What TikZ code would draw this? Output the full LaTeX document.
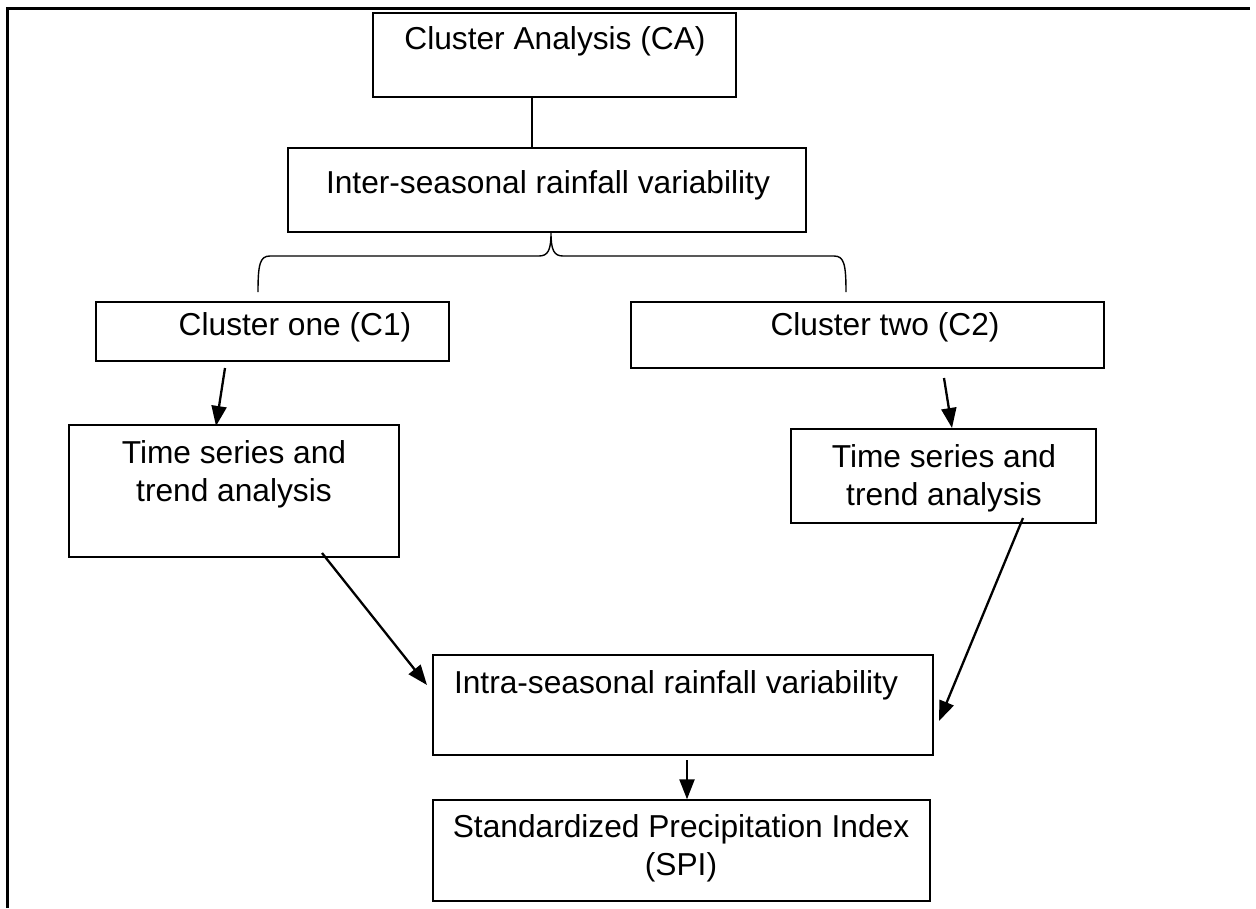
\documentclass[tikz,border=0pt]{standalone}
\usepackage{fontspec}
\setmainfont{Liberation Sans}
\usetikzlibrary{arrows.meta,calc}
\begin{document}
\begin{tikzpicture}[x=1pt,y=-1pt,
  box/.style={draw, line width=1.4pt, inner sep=0pt, rectangle},
  txt/.style={inner sep=0pt, align=center, font=\fontsize{31.7}{38}\selectfont},
  arr/.style={line width=2.3pt, -{Triangle[length=20pt,width=15pt]}},
  frame/.style={line width=3pt}]
\useasboundingbox (0,0) rectangle (1256,908);
% outer frame
\coordinate (fb) at (7.5,908);
\coordinate (ftl) at (7.5,8.5);
\coordinate (ftr) at (1250,8.5);
\draw[frame] (fb) -- (ftl) -- (ftr);
% boxes
\node[box, minimum width=363pt, minimum height=84pt] (ca) at (554.5,55) {};
\node[txt] (cat) at (555,41) {Cluster Analysis (CA)};
\node[box, minimum width=518pt, minimum height=84pt] (inter) at (547,190) {};
\node[txt] (intert) at (548,185) {Inter-seasonal rainfall variability};
\node[box, minimum width=353pt, minimum height=59pt] (c1) at (272.5,331.5) {};
\node[txt] (c1t) at (295,327) {Cluster one (C1)};
\node[box, minimum width=473pt, minimum height=66pt] (c2) at (867.5,335) {};
\node[txt] (c2t) at (885,327) {Cluster two (C2)};
\node[box, minimum width=330pt, minimum height=132pt] (ts1) at (234,491) {};
\node[txt] (ts1t) at (234,474) {Time series and\\trend analysis};
\node[box, minimum width=305pt, minimum height=94pt] (ts2) at (943.5,476) {};
\node[txt] (ts2t) at (944,478) {Time series and\\trend analysis};
\node[box, minimum width=500pt, minimum height=100pt] (intra) at (683,705) {};
\node[txt] (intrat) at (676,685) {Intra-seasonal rainfall variability};
\node[box, minimum width=497pt, minimum height=101pt] (spi) at (681.5,850.5) {};
\node[txt] (spit) at (681,848) {Standardized Precipitation Index\\(SPI)};
% CA to inter
\draw[line width=1.4pt] (ca.south -| 532,0) -- (inter.north -| 532,0);
% brace
\coordinate (tip) at (551,233);
\coordinate (bl) at (258,292);
\coordinate (br) at (846,292);
\draw[line width=1.4pt] (bl) .. controls (258,264) and (260,256) .. (270,256) -- (539,256)
  .. controls (548,256) and (551,250) .. (tip)
  .. controls (551,250) and (554,256) .. (563,256) -- (834,256)
  .. controls (844,256) and (846,264) .. (br);
% arrows
\coordinate (a1) at (225,368);
\coordinate (a1e) at (216,426);
\draw[arr] (a1) -- (a1e);
\coordinate (a2) at (944,378);
\coordinate (a2e) at (952,428);
\draw[arr] (a2) -- (a2e);
\coordinate (a3) at (322,553);
\coordinate (a3e) at (427,685);
\draw[arr] (a3) -- (a3e);
\coordinate (a4) at (1023,518);
\coordinate (a4e) at (939,721);
\draw[arr] (a4) -- (a4e);
\coordinate (a5) at (687,760);
\draw[arr] (a5) -- (spi.north -| a5);
\end{tikzpicture}
\end{document}
